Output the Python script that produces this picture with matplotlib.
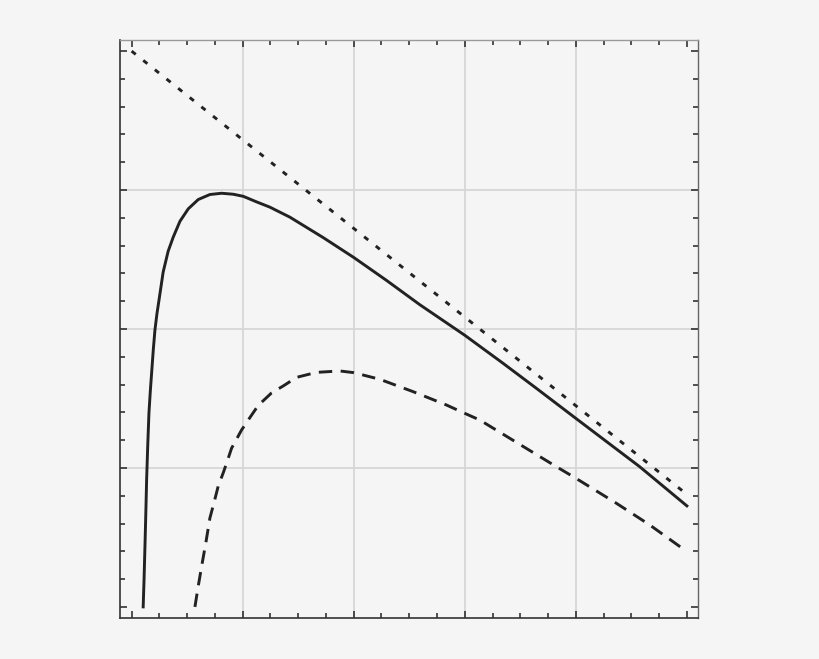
import numpy as np
import matplotlib.pyplot as plt
from matplotlib.ticker import MultipleLocator

# values
solid_x = [0.104, 0.112, 0.120, 0.128, 0.135, 0.145, 0.156, 0.168, 0.180, 0.195,
           0.210, 0.228, 0.245, 0.284, 0.329, 0.374, 0.435, 0.510, 0.600, 0.705,
           0.810, 0.915, 1.005, 1.125, 1.245, 1.425, 1.725, 2.0, 2.295, 2.595,
           3.0, 3.345, 3.645, 4.0, 4.575, 5.0]
solid_y = [0.0, 0.2, 0.434, 0.68, 0.914, 1.16, 1.396, 1.55, 1.683, 1.85,
           1.993, 2.11, 2.2, 2.41, 2.56, 2.66, 2.775, 2.865, 2.932, 2.968,
           2.977, 2.970, 2.955, 2.915, 2.877, 2.805, 2.658, 2.515, 2.35, 2.175,
           1.955, 1.753, 1.573, 1.357, 1.009, 0.727]

dashed_x = [0.570, 0.600, 0.630, 0.670, 0.705, 0.745, 0.780, 0.825, 0.855, 0.900,
            0.990, 1.05, 1.14, 1.26, 1.365, 1.485, 1.665, 1.875, 2.0, 2.235,
            2.535, 2.835, 3.0, 3.135, 3.825, 4.0, 4.365, 4.665, 5.0]
dashed_y = [0.0, 0.15, 0.29, 0.47, 0.64, 0.76, 0.87, 0.965, 1.034, 1.142,
            1.273, 1.345, 1.45, 1.54, 1.59, 1.652, 1.688, 1.698, 1.686, 1.638,
            1.549, 1.453, 1.393, 1.345, 1.009, 0.926, 0.746, 0.59, 0.398]

dotted_x = [0.0, 5.0]
dotted_y = [4.0, 0.81]

grid_x = [1, 2, 3, 4]
grid_y = [1, 2, 3]

bg = '#f5f5f5'
ink = '#222222'

fig = plt.figure(figsize=(8.2, 6.59), dpi=100, facecolor=bg)
ax = fig.add_axes([0.1463, 0.0622, 0.7049, 0.8771], facecolor=bg)

for v in grid_x:
    ax.axvline(v, color='#d6d6d6', lw=1.3, zorder=0)
for v in grid_y:
    ax.axhline(v, color='#d6d6d6', lw=1.3, zorder=0)

ax.plot(dotted_x, dotted_y, color=ink, lw=2.1, linestyle=(0, (1.8, 3.3)))
ax.plot(solid_x, solid_y, color=ink, lw=2.1, solid_joinstyle='round')
ax.plot(dashed_x, dashed_y, color=ink, lw=2.1, linestyle=(0, (4.6, 2.9)))

ax.set_xlim(-0.105, 5.1)
ax.set_ylim(-0.08, 4.08)

ax.xaxis.set_major_locator(MultipleLocator(1))
ax.xaxis.set_minor_locator(MultipleLocator(0.25))
ax.yaxis.set_major_locator(MultipleLocator(1))
ax.yaxis.set_minor_locator(MultipleLocator(0.2))

ax.tick_params(which='both', direction='in', top=True, right=True,
               labelbottom=False, labelleft=False, color=ink, width=1.1)
ax.tick_params(which='major', length=5)
ax.tick_params(which='minor', length=3.3)

ax.spines['left'].set_color('#333333')
ax.spines['bottom'].set_color('#333333')
ax.spines['left'].set_linewidth(1.2)
ax.spines['bottom'].set_linewidth(1.2)
ax.spines['top'].set_color('#9a9a9a')
ax.spines['right'].set_color('#666666')
ax.spines['top'].set_linewidth(1.0)
ax.spines['right'].set_linewidth(1.0)

fig.savefig('out.png', dpi=100, facecolor=bg)
